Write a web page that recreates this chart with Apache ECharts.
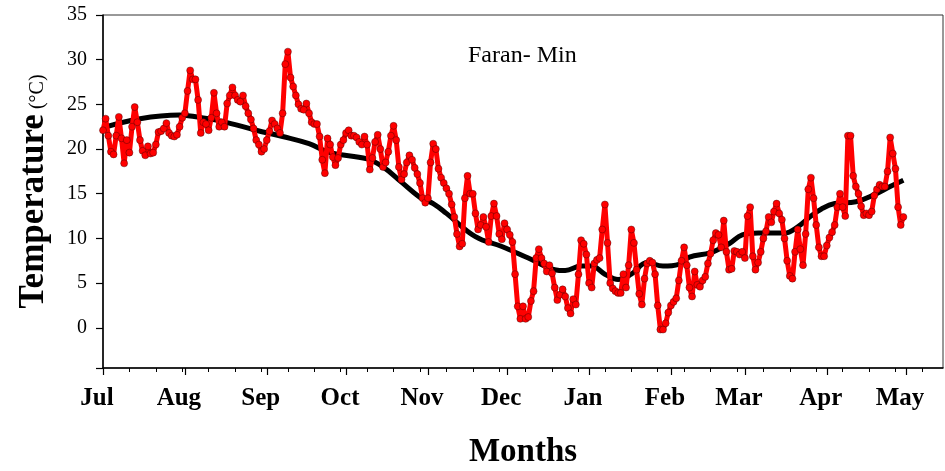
<!DOCTYPE html>
<html>
<head>
<meta charset="utf-8">
<script src="https://cdn.jsdelivr.net/npm/echarts@6/dist/echarts.min.js"></script>
<style>html,body{margin:0;padding:0;background:#fff}#c{width:945px;height:471px}</style>
</head>
<body>
<div id="c"></div>
<script>
// Month labels on the x axis (day offsets from 1 July)
const monthNames = ['Jul','Aug','Sep','Oct','Nov','Dec','Jan','Feb','Mar','Apr','May'];
const monthStarts = [0,31,62,92,123,153,184,215,243,274,304];
const tenDayTicks = [0,10,20,30,40,50,60,70,80,90,100,110,120,130,140,150,160,170,180,190,200,210,220,230,240,250,260,270,280,290,300,310];
const yLabels = [0,5,10,15,20,25,30,35];
const yTickMarks = [-4.5,0,5,10,15,20,25,30,35];

// Daily minimum temperature, day 0 = 1 July
const dailyMin = [
22.1,23.4,21.5,19.7,19.4,21.5,23.6,21.2,18.4,21.0,
19.6,22.5,24.7,23.0,21.0,19.8,19.3,20.3,19.5,19.6,
20.5,21.9,22.0,22.3,22.9,21.8,21.5,21.4,21.6,22.5,
23.5,24.0,26.5,28.8,27.8,27.8,25.5,21.8,23.0,22.8,
22.1,23.5,26.3,24.0,22.5,23.0,22.5,25.1,26.0,26.9,
26.0,25.5,25.3,26.0,24.8,24.0,23.3,22.3,21.0,20.5,
19.7,20.0,21.0,22.0,23.2,22.8,22.3,21.8,24.0,29.5,
30.9,28.0,27.0,26.0,25.0,24.5,24.4,25.1,24.0,23.0,
22.8,22.8,21.4,18.8,17.3,21.2,20.5,19.1,18.2,19.0,
20.5,21.0,21.8,22.1,21.5,21.5,21.3,20.8,20.5,21.4,
20.5,17.7,19.0,20.8,21.6,20.0,18.0,18.5,19.7,21.5,
22.6,21.0,18.0,16.6,17.2,18.5,19.3,18.8,17.9,17.2,
16.2,14.5,14.0,14.5,18.5,20.6,20.0,17.8,16.8,16.2,
15.6,15.0,13.8,12.4,10.5,9.1,9.4,14.5,17.0,15.0,
15.0,12.8,11.0,11.5,12.4,11.3,9.6,12.5,13.9,12.5,
10.5,9.9,11.7,11.0,10.4,9.6,6.0,2.4,1.0,2.4,
1.0,1.2,3.0,4.1,7.8,8.8,7.8,7.2,6.3,7.0,
6.1,4.5,3.1,3.7,4.3,3.5,2.2,1.6,3.2,2.6,
6.0,9.8,9.4,8.2,5.0,4.5,7.2,7.6,7.8,11.0,
13.8,9.5,5.0,4.4,4.1,3.9,3.9,6.0,4.5,7.0,
11.0,9.5,6.5,3.8,2.6,5.5,7.2,7.5,7.3,6.0,
2.5,-0.2,-0.2,0.5,1.7,2.5,2.9,3.3,5.3,7.5,
9.0,7.0,4.5,3.5,6.3,4.8,4.6,5.3,5.7,7.2,
8.3,9.8,10.6,10.4,9.0,12.0,8.5,6.5,6.6,8.6,
8.5,8.2,8.5,7.8,12.5,13.5,8.0,6.5,7.3,8.5,
10.0,10.8,12.4,11.8,13.0,13.9,12.8,12.1,10.0,7.5,
5.8,5.5,8.5,11.0,8.8,7.0,10.5,15.5,16.8,14.5,
11.5,9.0,8.0,8.0,9.2,10.1,10.7,11.5,13.5,15.0,
13.5,12.5,21.5,21.5,17.0,15.8,15.0,13.6,12.6,12.8,
12.6,13.0,14.8,15.5,16.0,15.8,15.8,17.5,21.3,19.5,
17.8,13.5,11.5,12.4
];

// Long-term mean curve
const meanDays = [0,14,29,33,45,58,68,78,86,100,106,113,120,125,130,141,151,161,171,175,181,185,190,195,200,206,212,218,222,230,237,242,248,258,263,268,272,277,285,292,298,303];
const meanVals = [22.4,23.4,23.8,23.7,23.1,22.1,21.4,20.6,19.6,18.9,18.0,16.3,14.6,13.9,12.8,10.2,9.1,7.8,6.5,6.4,6.9,6.9,6.0,5.4,6.0,7.3,6.9,7.1,7.9,8.4,9.4,10.4,10.6,10.6,11.3,12.5,13.3,13.9,14.1,14.9,15.8,16.5];

const FONT = 'Liberation Serif, Times New Roman, serif';
const chart = echarts.init(document.getElementById('c'), null, {renderer:'canvas'});
chart.setOption({
  animation: false,
  backgroundColor: '#fff',
  title: {
    text: 'Faran- Min', left: 463, top: 39,
    textStyle: {fontFamily: FONT, fontWeight: 'normal', fontSize: 24, color: '#000'}
  },
  grid: {left: 103, right: 2, top: 15, bottom: 103, outerBoundsMode: 'none', containLabel: false, show: true, borderColor: '#333', borderWidth: 1, backgroundColor: 'transparent'},
  xAxis: [{
    type: 'value', min: 0, max: 318,
    axisLine: {show: true, onZero: false, lineStyle: {color: '#000', width: 1.5}},
    axisTick: {show: true, customValues: monthStarts, length: 7, lineStyle: {color: '#000', width: 1.2}},
    axisLabel: {
      customValues: monthStarts,
      formatter: v => monthNames[monthStarts.indexOf(v)] || '',
      fontFamily: FONT, fontWeight: 'bold', fontSize: 25, color: '#000', margin: 18, padding: [0, 12, 0, 0]
    },
    splitLine: {show: false},
    name: 'Months', nameLocation: 'middle', nameGap: 68,
    nameTextStyle: {fontFamily: FONT, fontWeight: 'bold', fontSize: 33, color: '#000'}
  }, {
    type: 'value', min: 0, max: 318, position: 'bottom',
    axisLine: {show: false, onZero: false},
    axisTick: {show: true, customValues: tenDayTicks, length: 4, lineStyle: {color: '#000', width: 1}},
    axisLabel: {show: false},
    splitLine: {show: false}
  }],
  yAxis: {
    type: 'value', min: -4.5, max: 35,
    axisLine: {show: true, onZero: false, lineStyle: {color: '#000', width: 1.5}},
    axisTick: {show: true, customValues: yTickMarks, length: 7, lineStyle: {color: '#000', width: 1.2}},
    axisLabel: {customValues: yLabels, fontFamily: FONT, fontSize: 20, color: '#000', margin: 16},
    splitLine: {show: false},
    name: '{a|Temperature}{b| (°C)}', nameLocation: 'middle', nameGap: 52, nameRotate: 90,
    nameTextStyle: {
      rich: {
        a: {fontFamily: FONT, fontWeight: 'bold', fontSize: 35, color: '#000', verticalAlign: 'bottom'},
        b: {fontFamily: FONT, fontSize: 20, color: '#000', verticalAlign: 'bottom', padding: [0,0,3,0]}
      }
    }
  },
  series: [{
    type: 'line', name: 'mean',
    data: meanDays.map((d, i) => [d, meanVals[i]]),
    smooth: 0.4, showSymbol: false, symbol: 'none',
    lineStyle: {color: '#000', width: 5}, z: 2
  }, {
    type: 'line', name: 'daily',
    data: dailyMin.map((v, i) => [i, v]),
    symbol: 'circle', symbolSize: 7,
    itemStyle: {color: '#ff0000', borderColor: 'rgba(60,0,0,0.7)', borderWidth: 0.6},
    lineStyle: {color: '#ff0000', width: 5}, z: 3
  }]
});
</script>
</body>
</html>
